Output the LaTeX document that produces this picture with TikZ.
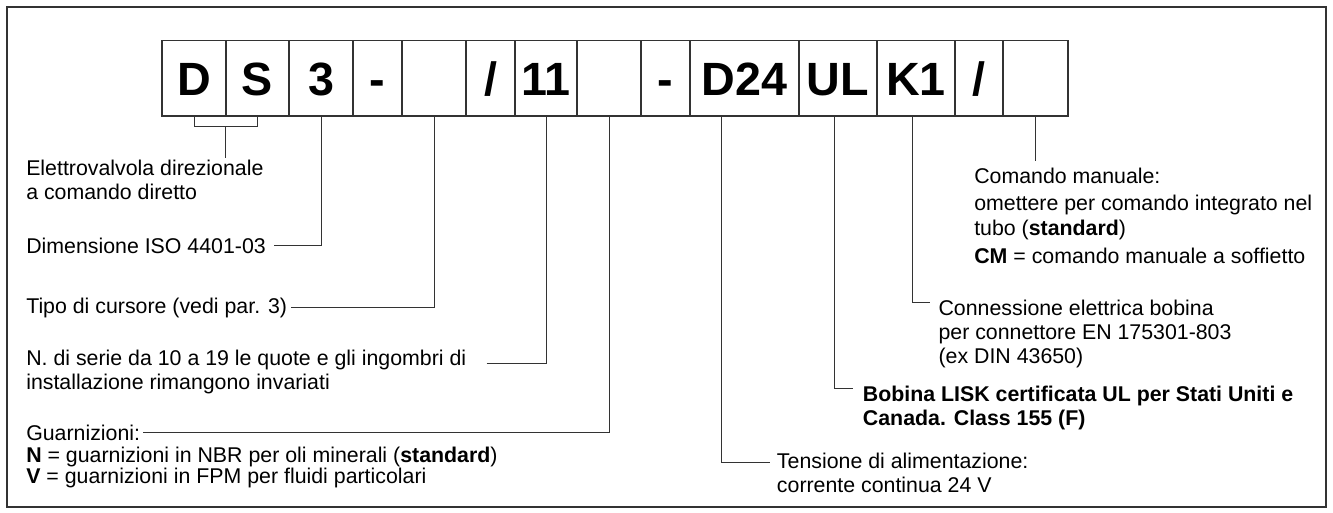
\documentclass[tikz,border=0pt]{standalone}
\usepackage{fontspec}
\setmainfont{Liberation Sans}
\usetikzlibrary{positioning, calc}
\definecolor{linegray}{HTML}{333333}
\tikzset{
    codebox/.style={rectangle, draw=linegray, line width=0.9pt, outer sep=0pt, inner sep=0pt, minimum height=56.5pt, text height=25pt, text depth=0pt, font=\fontsize{35}{40}\selectfont\bfseries},
    note/.style={anchor=base west, inner sep=0pt, align=left, font=\fontsize{16}{18}\selectfont},
    leader/.style={draw=linegray, line width=0.75pt}
}

\begin{document}
\begin{tikzpicture}[x=0.75pt, y=-0.75pt, node distance=0pt]
        \useasboundingbox (0,0) rectangle (1333,513);
        \draw[linegray, line width=0.9pt] (7,7) rectangle (1326,507);

        % ordering code
        \node[codebox, anchor=north west, minimum width=48pt] (d) at (162,40.7) {D};
        \node[codebox, right=of d, minimum width=47.25pt] (s) {S};
        \node[codebox, right=of s, minimum width=48pt] (size) {3};
        \node[codebox, right=of size, minimum width=36.75pt] (dasha) {-};
        \node[codebox, right=of dasha, minimum width=48pt] (spool) {};
        \node[codebox, right=of spool, minimum width=36.75pt] (slasha) {/};
        \node[codebox, right=of slasha, minimum width=46.5pt] (serial) {11};
        \node[codebox, right=of serial, minimum width=48pt] (seal) {};
        \node[codebox, right=of seal, minimum width=36.75pt] (dashb) {-};
        \node[codebox, right=of dashb, minimum width=81.75pt] (volt) {D24};
        \node[codebox, right=of volt, minimum width=58.5pt] (ul) {UL};
        \node[codebox, right=of ul, minimum width=58.5pt] (plug) {K1};
        \node[codebox, right=of plug, minimum width=36pt] (slashb) {/};
        \node[codebox, right=of slashb, minimum width=48.75pt] (manual) {};

        % left notes (placed at the baseline of their last line)
        \node[note] (valvetxt) at (26,199.3) {Elettrovalvola direzionale\\a comando diretto};
        \node[note] (sizetxt) at (26,253) {Dimensione ISO 4401-03};
        \node[note] (spooltxt) at (26,313) {Tipo di cursore (vedi par. 3)};
        \node[note] (serialtxt) at (26,389.3) {N. di serie da 10 a 19 le quote e gli ingombri di\\installazione rimangono invariati};
        \node[note] (sealtxt) at (26,440) {Guarnizioni:};
        \node[note, font=\fontsize{16}{15.75}\selectfont] (sealopt) at (26,483.3) {\textbf{N} = guarnizioni in NBR per oli minerali (\textbf{standard})\\\textbf{V} = guarnizioni in FPM per fluidi particolari};

        % right notes
        \node[note, font=\fontsize{16}{19}\selectfont] (manualtxt) at (974,263.3) {Comando manuale:\\[1.5pt]omettere per comando integrato nel\\tubo (\textbf{standard})\\[1.5pt]\textbf{CM} = comando manuale a soffietto};
        \node[note] (plugtxt) at (938.3,363.3) {Connessione elettrica bobina\\per connettore EN 175301-803\\(ex DIN 43650)};
        \node[note, font=\fontsize{16}{17.5}\selectfont\bfseries] (ultxt) at (862.7,425) {Bobina LISK certificata UL per Stati Uniti e\\Canada. Class 155 (F)};
        \node[note] (volttxt) at (776.7,492.7) {Tensione di alimentazione:\\corrente continua 24 V};

        \coordinate (dsjoin) at ($(d.south)!0.5!(s.south)+(0,10.7)$);
        \draw[leader] (d.south) |- (dsjoin) -| (s.south);
        \draw[leader] (dsjoin) -- ($(dsjoin |- valvetxt.north)+(0,-2)$);
        \draw[leader] ($(sizetxt.east)+(8,0)$) -| (size.south);
        \draw[leader] ($(spooltxt.east)+(4,0)$) -| (spool.south);
        \draw[leader] ($(serialtxt.north east)+(20,14)$) -| (serial.south);
        \draw[leader] ($(sealtxt.east)+(3,0)$) -| (seal.south);
        \draw[leader] ($(volt.south)+(-22.8,0)$) |- ($(volttxt.north west)+(-6.7,10)$);
        \draw[leader] ($(ul.south)+(-4,0)$) |- ($(ultxt.north west)+(-9.4,3)$);
        \draw[leader] ($(plug.south)+(-3.3,0)$) |- ($(plugtxt.north west)+(-8.3,3)$);
        \draw[leader] (manual.south) -- ($(manual.south |- manualtxt.north)+(0,-7)$);
    \end{tikzpicture}
\end{document}
